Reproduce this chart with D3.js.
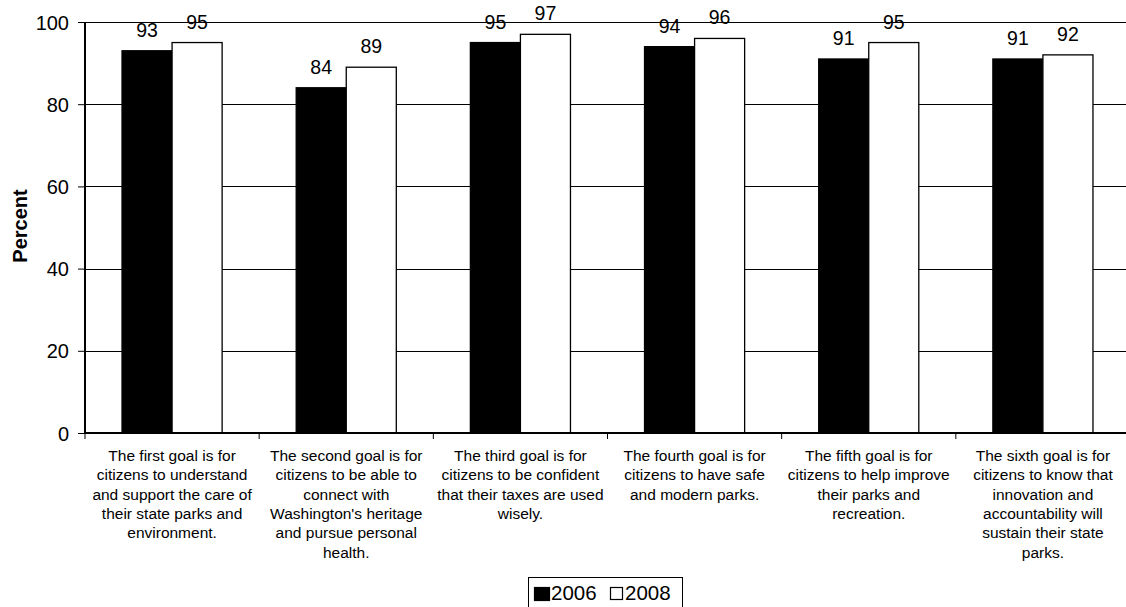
<!DOCTYPE html>
<html><head><meta charset="utf-8">
<script src="https://cdn.jsdelivr.net/npm/d3@7"></script>
<style>body{margin:0;background:#fff;overflow:hidden}svg{display:block}text{font-family:"Liberation Sans",Arial,sans-serif}</style>
</head><body>
<svg id="c" width="1126" height="607"></svg>
<script>
const categories = [
  ["The first goal is for","citizens to understand","and support the care of","their state parks and","environment."],
  ["The second goal is for","citizens to be able to","connect with","Washington's heritage","and pursue personal","health."],
  ["The third goal is for","citizens to be confident","that their taxes are used","wisely."],
  ["The fourth goal is for","citizens to have safe","and modern parks."],
  ["The fifth goal is for","citizens to help improve","their parks and","recreation."],
  ["The sixth goal is for","citizens to know that","innovation and","accountability will","sustain their state","parks."]
];
const series = ["2006","2008"];
const values2006 = [93,84,95,94,91,91];
const values2008 = [95,89,97,96,95,92];
const yTicks = [0,20,40,60,80,100];
const colors = ["#000000","#ffffff"];

const svg = d3.select("#c");
const L = 85, R = 1130, T = 22, B = 433;
const x = d3.scaleBand().domain(d3.range(categories.length)).range([L,R]).paddingInner(0).paddingOuter(0);
const xs = d3.scaleBand().domain(series).range([0,x.bandwidth()]).paddingInner(0).paddingOuter(0.74);
const y = d3.scaleLinear().domain([0,100]).range([B,T]);

// gridlines
svg.append("g").selectAll("line").data(yTicks.filter(d=>d>0)).join("line")
  .attr("x1",L).attr("x2",R).attr("y1",d=>Math.round(y(d))+0.5).attr("y2",d=>Math.round(y(d))+0.5)
  .attr("stroke","#000").attr("stroke-width",1);

// bars
const data = categories.map((c,i)=>({i, v:[values2006[i],values2008[i]]}));
const g = svg.append("g").selectAll("g").data(data).join("g").attr("transform",d=>`translate(${x(d.i)},0)`);
g.selectAll("rect").data(d=>d.v.map((v,k)=>({k,v}))).join("rect")
  .attr("x",d=>xs(series[d.k])).attr("width",xs.bandwidth())
  .attr("y",d=>y(d.v)).attr("height",d=>B-y(d.v))
  .attr("fill",d=>colors[d.k]).attr("stroke","#000").attr("stroke-width",1.3);
g.selectAll("text").data(d=>d.v.map((v,k)=>({k,v}))).join("text")
  .attr("x",d=>xs(series[d.k])+xs.bandwidth()/2).attr("y",d=>y(d.v)-14)
  .attr("text-anchor","middle").attr("font-size",19.5).text(d=>d.v);

// y axis
const ya = svg.append("g").attr("transform",`translate(${L},0)`)
  .call(d3.axisLeft(y).tickValues(yTicks).tickSize(7).tickPadding(9));
ya.select(".domain").remove();
ya.selectAll("text").attr("font-size",20).attr("fill","#000").attr("font-family","Liberation Sans, Arial, sans-serif").attr("dy","0.35em");
ya.selectAll("line").attr("stroke","#000");
svg.append("line").attr("x1",L).attr("x2",L).attr("y1",T).attr("y2",B+1).attr("stroke","#000").attr("stroke-width",2);

// x axis
svg.append("line").attr("x1",L).attr("x2",R).attr("y1",B).attr("y2",B).attr("stroke","#000").attr("stroke-width",2);
svg.append("g").selectAll("line").data(d3.range(categories.length+1)).join("line")
  .attr("x1",d=>L+d*x.bandwidth()).attr("x2",d=>L+d*x.bandwidth()).attr("y1",B).attr("y2",B+6).attr("stroke","#000");

svg.append("g").selectAll("text").data(categories).join("text")
  .attr("text-anchor","middle").attr("font-size",15.5)
  .attr("transform",(d,i)=>`translate(${x(i)+x.bandwidth()/2},461)`)
  .selectAll("tspan").data(d=>d).join("tspan").attr("x",0).attr("dy",(d,i)=>i?19.3:0).text(d=>d);

// y title
svg.append("text").attr("transform","translate(27,226) rotate(-90)").attr("text-anchor","middle")
  .attr("font-size",20).attr("font-weight","bold").text("Percent");

// legend
const lg = svg.append("g");
lg.append("rect").attr("x",528.5).attr("y",577.5).attr("width",154).attr("height",34).attr("fill","#fff").attr("stroke","#000");
series.forEach((s,k)=>{
  const lx = [534,610][k];
  lg.append("rect").attr("x",lx+0.5).attr("y",587.5).attr("width",k?12:15).attr("height",k?12:13)
    .attr("fill",colors[k]).attr("stroke","#000").attr("stroke-width",1.2);
  lg.append("text").attr("x",lx+(k?15:17)).attr("y",599.5).attr("font-size",20.5).text(s);
});
</script>
</body></html>
